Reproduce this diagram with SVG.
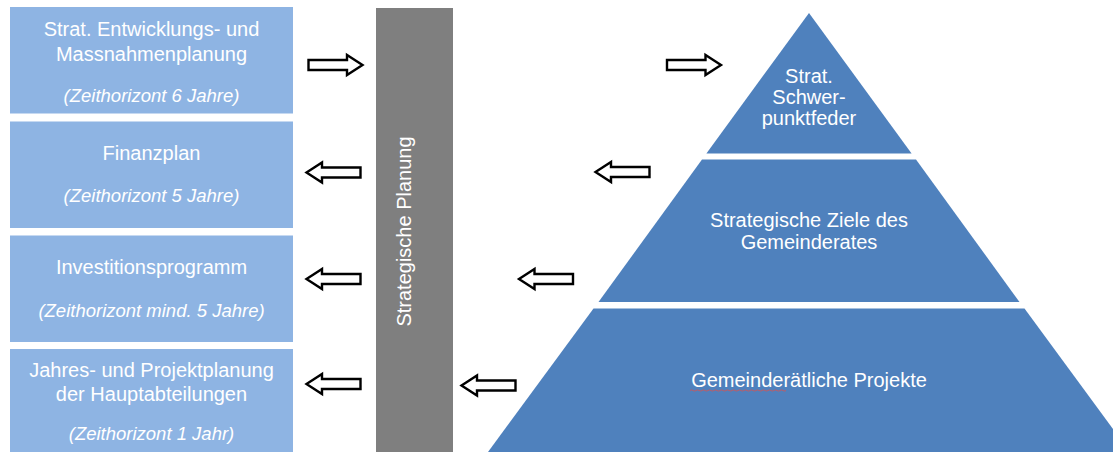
<svg xmlns="http://www.w3.org/2000/svg" xmlns:xlink="http://www.w3.org/1999/xlink" width="1113" height="452" viewBox="0 0 1113 452">
<style>
.box{fill:#8EB4E3;}
.pyr{fill:#4F81BD;}
.bar{fill:#7F7F7F;}
.t{font-family:"Liberation Sans",Arial,sans-serif;font-size:20px;fill:#FFFFFF;text-anchor:middle;}
.ti{font-family:"Liberation Sans",Arial,sans-serif;font-size:18.5px;font-style:italic;fill:#FFFFFF;text-anchor:middle;}
.arr{fill:#FFFFFF;stroke:#000000;stroke-width:2.4;stroke-linejoin:miter;}
</style>
<defs>
<path id="arrowL" d="M1.5,0 L17,-10 L17,-5 L55.5,-5 L55.5,5 L17,5 L17,10 Z"/>
</defs>
<rect width="1113" height="452" fill="#FFFFFF"/>

<g id="box1">
<rect class="box" x="10" y="7" width="283" height="106.5"/>
<text class="t" x="151.5" y="36">Strat. Entwicklungs- und</text>
<text class="t" x="151.5" y="61">Massnahmenplanung</text>
<text class="ti" x="151.5" y="101.5">(Zeithorizont 6 Jahre)</text>
</g>
<g id="box2">
<rect class="box" x="10" y="121.5" width="283" height="106.5"/>
<text class="t" x="151.5" y="160">Finanzplan</text>
<text class="ti" x="151.5" y="202">(Zeithorizont 5 Jahre)</text>
</g>
<g id="box3">
<rect class="box" x="10" y="235.5" width="283" height="106.5"/>
<text class="t" x="151.5" y="274">Investitionsprogramm</text>
<text class="ti" x="151.5" y="317">(Zeithorizont mind. 5 Jahre)</text>
</g>
<g id="box4">
<rect class="box" x="10" y="349" width="283" height="106"/>
<text class="t" x="151.5" y="377">Jahres- und Projektplanung</text>
<text class="t" x="151.5" y="401">der Hauptabteilungen</text>
<text class="ti" x="151.5" y="440">(Zeithorizont 1 Jahr)</text>
</g>

<g id="strategische-planung">
<rect class="bar" x="376" y="8" width="77" height="446"/>
<text class="t" transform="translate(411,231.5) rotate(-90)">Strategische Planung</text>
</g>

<g id="pyramid-top">
<polygon class="pyr" points="809,13 911.6,153.5 706.4,153.5"/>
<text class="t" x="809" y="83">Strat.</text>
<text class="t" x="809" y="104">Schwer-</text>
<text class="t" x="809" y="125">punktfeder</text>
</g>
<g id="pyramid-middle">
<polygon class="pyr" points="702,159.5 916,159.5 1019.5,302 598.5,302"/>
<text class="t" x="809" y="226.5">Strategische Ziele des</text>
<text class="t" x="809" y="249">Gemeinderates</text>
</g>
<g id="pyramid-bottom">
<polygon class="pyr" points="593.5,308.5 1024.5,308.5 1130,452 488,452"/>
<text class="t" x="809" y="387">Gemeinderätliche Projekte</text>
<path d="M690,390.5 q1.5,-1.2 3,0 t3,0 t3,0 t3,0 t3,0 t3,0 t3,0 t3,0 t3,0 t3,0 t3,0 t3,0 t3,0 t3,0 t3,0 t3,0 t3,0 t3,0 t3,0 t3,0 t3,0 t3,0 t3,0 t3,0 t3,0 t3,0 t3,0 t3,0 t3,0 t3,0 t3,0 t3,0" fill="none" stroke="#D9534F" stroke-width="0.8"/>
</g>

<g id="connectors">
<use xlink:href="#arrowL" href="#arrowL" class="arr" transform="translate(364,65) scale(-1,1)"/>
<use xlink:href="#arrowL" href="#arrowL" class="arr" transform="translate(305,172.5)"/>
<use xlink:href="#arrowL" href="#arrowL" class="arr" transform="translate(305,279)"/>
<use xlink:href="#arrowL" href="#arrowL" class="arr" transform="translate(305,384)"/>
<use xlink:href="#arrowL" href="#arrowL" class="arr" transform="translate(722.5,65) scale(-1,1)"/>
<use xlink:href="#arrowL" href="#arrowL" class="arr" transform="translate(594,172)"/>
<use xlink:href="#arrowL" href="#arrowL" class="arr" transform="translate(517.5,279)"/>
<use xlink:href="#arrowL" href="#arrowL" class="arr" transform="translate(460,385.5)"/>
</g>
</svg>
